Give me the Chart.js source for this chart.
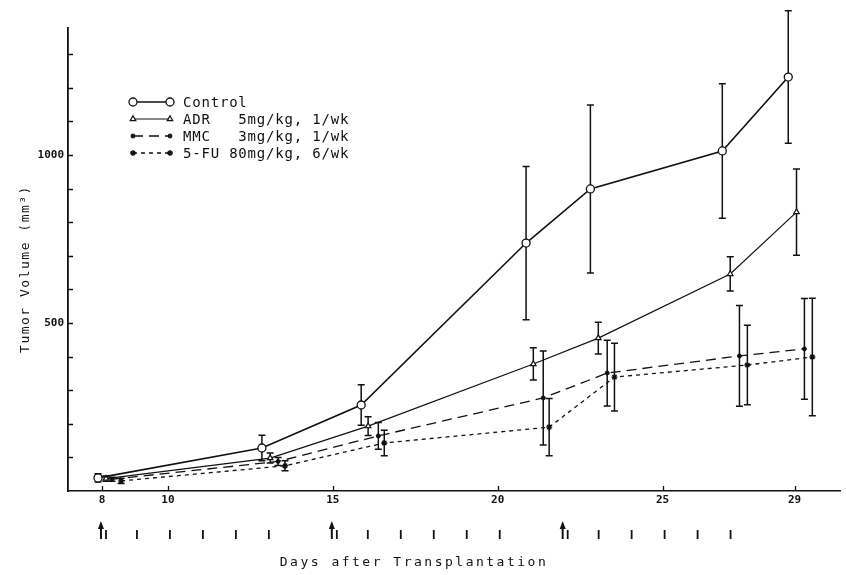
<!DOCTYPE html>
<html>
<head>
<meta charset="utf-8">
<script src="https://cdn.jsdelivr.net/npm/chart.js@4.4.1/dist/chart.umd.min.js"></script>
<style>
  html, body { margin: 0; padding: 0; background: #fff; }
  #wrap { width: 846px; height: 575px; }
</style>
</head>
<body>
<div id="wrap"><canvas id="chart" width="846" height="575"></canvas></div>
<script>
// ---------------------------------------------------------------------------
// Data (days are slightly staggered per group)
// ---------------------------------------------------------------------------
const controlDays = [7.88, 12.85, 15.86, 20.86, 22.81, 26.81, 28.81];
const controlVol  = [39, 128, 256, 738, 899, 1012, 1232];
const controlErr  = [12, 38, 60, 228, 250, 200, 197];

const adrDays = [8.12, 13.10, 16.07, 21.08, 23.05, 27.05, 29.06];
const adrVol  = [37, 98, 193, 378, 455, 646, 830];
const adrErr  = [8, 15, 28, 48, 47, 51, 128];

const mmcDays = [8.30, 13.34, 16.38, 21.38, 23.32, 27.33, 29.30];
const mmcVol  = [35, 88, 164, 277, 351, 402, 423];
const mmcErr  = [6, 12, 40, 140, 98, 150, 150];

const fuDays = [8.58, 13.55, 16.56, 21.56, 23.54, 27.57, 29.54];
const fuVol  = [30, 75, 143, 190, 339, 375, 399];
const fuErr  = [8, 15, 38, 85, 101, 118, 175];

const xTickDays = [8, 10, 15, 20, 25, 29];
const yLabelled = [500, 1000];

// dosing schedule shown under the axis
const weeklyDoseDays = [8, 15, 22];                 // ADR, MMC 1/wk (arrows)
const dailyDoseDays = [8, 9, 10, 11, 12, 13,
                       15, 16, 17, 18, 19, 20,
                       22, 23, 24, 25, 26, 27];     // 5-FU 6/wk (ticks)

const legendLabels = [
  "Control",
  "ADR   5mg/kg, 1/wk",
  "MMC   3mg/kg, 1/wk",
  "5-FU 80mg/kg, 6/wk",
];

const INK = "#111";
const MONO = '"DejaVu Sans Mono", "Liberation Mono", monospace';

const pts = (days, vals) => days.map((d, i) => ({ x: d, y: vals[i] }));

// ---------------------------------------------------------------------------
// Plugins
// ---------------------------------------------------------------------------
const errorBars = {
  id: "errorBars",
  beforeDatasetsDraw(chart) {
    const { ctx, scales: { x, y } } = chart;
    ctx.save();
    ctx.strokeStyle = INK;
    ctx.lineWidth = 1.5;
    chart.data.datasets.forEach(ds => {
      ds.data.forEach((p, j) => {
        const e = ds.errors[j];
        const px = x.getPixelForValue(p.x);
        const top = y.getPixelForValue(p.y + e);
        const bot = y.getPixelForValue(Math.max(0, p.y - e));
        ctx.beginPath();
        ctx.moveTo(px, top); ctx.lineTo(px, bot);
        ctx.moveTo(px - 3.5, top); ctx.lineTo(px + 3.5, top);
        ctx.moveTo(px - 3.5, bot); ctx.lineTo(px + 3.5, bot);
        ctx.stroke();
      });
    });
    ctx.restore();
  }
};

const decorations = {
  id: "decorations",
  afterDraw(chart) {
    const { ctx, chartArea: ca, scales: { x, y } } = chart;
    ctx.save();
    ctx.strokeStyle = INK;
    ctx.fillStyle = INK;

    // inward ticks
    ctx.lineWidth = 1.3;
    ctx.beginPath();
    for (let v = 100; v <= 1300; v += 100) {
      const py = Math.round(y.getPixelForValue(v)) + 0.5;
      ctx.moveTo(ca.left, py); ctx.lineTo(ca.left + 5, py);
    }
    for (const d of xTickDays) {
      const px = Math.round(x.getPixelForValue(d)) + 0.5;
      ctx.moveTo(px, ca.bottom); ctx.lineTo(px, ca.bottom - 5);
    }
    ctx.stroke();

    // dosing marks
    ctx.lineWidth = 2;
    for (const d of weeklyDoseDays) {
      const px = x.getPixelForValue(d) - 1;
      ctx.beginPath();
      ctx.moveTo(px, 539); ctx.lineTo(px, 527);
      ctx.stroke();
      ctx.beginPath();
      ctx.moveTo(px, 521); ctx.lineTo(px - 3, 529); ctx.lineTo(px + 3, 529);
      ctx.closePath();
      ctx.fill();
    }
    ctx.lineWidth = 1.8;
    ctx.beginPath();
    for (const d of dailyDoseDays) {
      const px = x.getPixelForValue(d) + (weeklyDoseDays.includes(d) ? 4 : 2);
      ctx.moveTo(px, 530); ctx.lineTo(px, 539);
    }
    ctx.stroke();

    // axis titles
    ctx.font = `13px ${MONO}`;
    ctx.textAlign = "center";
    ctx.textBaseline = "middle";
    ctx.letterSpacing = "2.5px";
    ctx.fillText("Days after Transplantation", 414, 563);
    ctx.letterSpacing = "1.5px";
    ctx.translate(26, 269);
    ctx.rotate(-Math.PI / 2);
    ctx.fillText("Tumor Volume (mm\u00B3)", 0, 0);
    ctx.setTransform(1, 0, 0, 1, 0, 0);
    ctx.letterSpacing = "0px";

    // legend
    const x0 = 133, x1 = 170, tx = 183;
    chart.data.datasets.forEach((ds, i) => {
      const ly = 102 + i * 17;
      ctx.save();
      ctx.strokeStyle = INK;
      ctx.lineWidth = ds.borderWidth;
      ctx.setLineDash(ds.borderDash || []);
      ctx.beginPath();
      ctx.moveTo(x0, ly); ctx.lineTo(x1, ly);
      ctx.stroke();
      ctx.setLineDash([]);
      const opts = {
        pointStyle: ds.pointStyle, radius: ds.pointRadius, rotation: 0,
        borderWidth: ds.pointBorderWidth
      };
      ctx.fillStyle = ds.pointBackgroundColor;
      ctx.strokeStyle = INK;
      ctx.lineWidth = ds.pointBorderWidth;
      Chart.helpers.drawPoint(ctx, opts, x0, ly);
      Chart.helpers.drawPoint(ctx, opts, x1, ly);
      ctx.restore();
      ctx.fillStyle = INK;
      ctx.font = `14px ${MONO}`;
      ctx.textAlign = "left";
      ctx.textBaseline = "middle";
      ctx.letterSpacing = "0.8px";
      ctx.fillText(legendLabels[i], tx, ly + 1);
      ctx.letterSpacing = "0px";
    });

    ctx.restore();
  }
};

// ---------------------------------------------------------------------------
// Chart
// ---------------------------------------------------------------------------
const baseDs = {
  showLine: true,
  borderColor: INK,
  pointBorderColor: INK,
  pointHoverRadius: 0,
  clip: false,
};

new Chart(document.getElementById("chart"), {
  type: "scatter",
  data: {
    datasets: [
      { ...baseDs, label: "Control", data: pts(controlDays, controlVol), errors: controlErr,
        borderWidth: 1.6, pointStyle: "circle", pointRadius: 4,
        pointBackgroundColor: "#fff", pointBorderWidth: 1.3 },
      { ...baseDs, label: "ADR", data: pts(adrDays, adrVol), errors: adrErr,
        borderWidth: 1.2, pointStyle: "triangle", pointRadius: 3.2,
        pointBackgroundColor: "#fff", pointBorderWidth: 1.2 },
      { ...baseDs, label: "MMC", data: pts(mmcDays, mmcVol), errors: mmcErr,
        borderWidth: 1.3, borderDash: [10, 6], pointStyle: "circle", pointRadius: 2,
        pointBackgroundColor: INK, pointBorderWidth: 1 },
      { ...baseDs, label: "5-FU", data: pts(fuDays, fuVol), errors: fuErr,
        borderWidth: 1.3, borderDash: [4, 4], pointStyle: "star", pointRadius: 3,
        pointBackgroundColor: INK, pointBorderWidth: 1.4 },
    ]
  },
  options: {
    responsive: false,
    animation: false,
    devicePixelRatio: 1,
    layout: { padding: { top: 28, right: 0, left: 0, bottom: 0 } },
    plugins: { legend: { display: false }, tooltip: { enabled: false } },
    elements: { line: { tension: 0 } },
    scales: {
      x: {
        type: "linear", min: 6.97, max: 30.40,
        afterBuildTicks: s => { s.ticks = xTickDays.map(v => ({ value: v })); },
        afterFit: s => { s.height = 84; },
        ticks: {
          autoSkip: false, maxRotation: 0, padding: 3, color: INK,
          font: { family: MONO, size: 11, weight: "bold" },
          callback: v => String(v)
        },
        grid: { display: true, drawOnChartArea: false, drawTicks: false },
        border: { color: INK, width: 1.6 }
      },
      y: {
        min: 0, max: 1378,
        afterFit: s => { s.width = 68; },
        ticks: {
          stepSize: 100, padding: 4, color: INK,
          font: { family: MONO, size: 11, weight: "bold" },
          callback: v => (yLabelled.includes(v) ? String(v) : "")
        },
        grid: { display: true, drawOnChartArea: false, drawTicks: false },
        border: { color: INK, width: 1.8 }
      }
    }
  },
  plugins: [errorBars, decorations]
});
</script>
</body>
</html>
